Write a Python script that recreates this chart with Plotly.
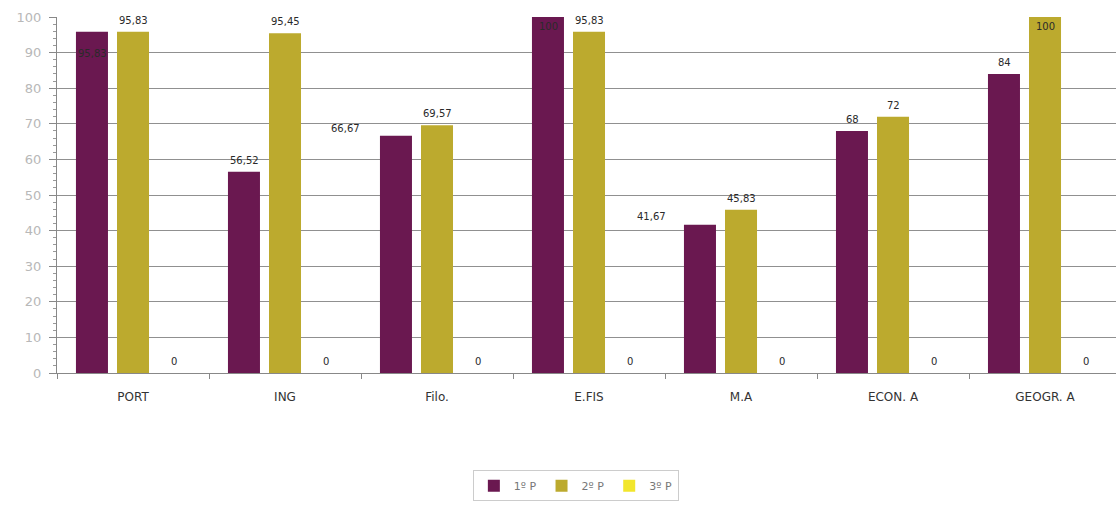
import plotly.graph_objects as go

categories = ["PORT", "ING", "Filo.", "E.FIS", "M.A", "ECON. A", "GEOGR. A"]
p1 = [95.83, 56.52, 66.67, 100, 41.67, 68, 84]
p2 = [95.83, 95.45, 69.57, 95.83, 45.83, 72, 100]
p3 = [0, 0, 0, 0, 0, 0, 0]
series_names = ["1º P", "2º P", "3º P"]
colors = ["#6a1850", "#bcaa2e", "#f2e62c"]

# label placement tweaks (series index, category index) -> (xshift, yshift, yanchor)
label_tweaks = {
    (0, 0): (0, -14, "top"),
    (0, 3): (0, -2, "top"),
    (1, 6): (0, -2, "top"),
    (0, 2): (-51, 0, "bottom"),
    (0, 4): (-49, 1, "bottom"),
}

def fmt(v):
    if float(v).is_integer():
        return str(int(v))
    return f"{v:.2f}".replace(".", ",")

fig = go.Figure()
all_series = [p1, p2, p3]
for name, vals, col in zip(series_names, all_series, colors):
    fig.add_trace(go.Bar(x=categories, y=vals, name=name, marker_color=col,
                         marker_line_width=0))

annotations = []
slot = 41
for si, vals in enumerate(all_series):
    for ci, v in enumerate(vals):
        dx, dy, ya = label_tweaks.get((si, ci), (0, 4, "bottom"))
        annotations.append(dict(
            x=categories[ci], y=v, xref="x", yref="y",
            text=fmt(v), showarrow=False,
            xshift=(si - 1) * slot + dx, yshift=dy, yanchor=ya,
            font=dict(family="DejaVu Sans", size=10, color="#2a2a2a"),
        ))

fig.update_layout(
    width=1116, height=505,
    margin=dict(l=57, r=0, t=17, b=132, autoexpand=False),
    paper_bgcolor="white", plot_bgcolor="white",
    barmode="group", bargap=0.19, bargroupgap=0.22,
    annotations=annotations,
    font=dict(family="DejaVu Sans"),
    showlegend=True,
    legend=dict(orientation="h", xref="container", yref="container",
                x=0.516, xanchor="center", y=0.069, yanchor="top",
                bordercolor="#cccccc", borderwidth=1,
                font=dict(size=11, color="#777777"),
                itemwidth=30, traceorder="normal", tracegroupgap=0),
    xaxis=dict(range=[-0.5, 6.467], tickson="boundaries", ticks="outside", ticklen=5,
               tickcolor="#888888", showline=True, linecolor="#888888", linewidth=1,
               tickfont=dict(size=12, color="#333333"), showgrid=False,
               ticklabelstandoff=13, automargin=False),
    yaxis=dict(range=[0, 100], dtick=10, ticks="outside", ticklen=7, tickcolor="#888888",
               showline=True, linecolor="#888888", linewidth=1,
               gridcolor="#909090", gridwidth=1, zeroline=False,
               tickfont=dict(size=13, color="#b8b8b8"), ticklabelstandoff=5,
               automargin=False,
               minor=dict(dtick=2, ticks="outside", ticklen=3, tickcolor="#999999",
                          showgrid=False)),
)

fig.write_html("out.html")
